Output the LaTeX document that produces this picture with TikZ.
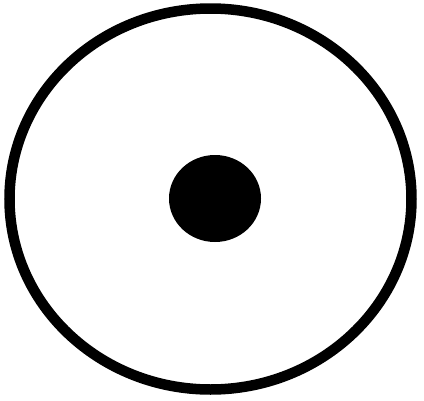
\documentclass[tikz,border=0pt]{standalone}
\usetikzlibrary{shapes.geometric}

\begin{document}
\begin{tikzpicture}[x=1pt, y=-1pt]
    \useasboundingbox (0,0) rectangle (424,400);
    % Outer ring
    \node[draw, ellipse, line width=10.5pt, inner sep=0pt,
          minimum width=402pt, minimum height=381pt] (ring) at (210.5,199) {};
    % Centre dot
    \node[fill=black, ellipse, inner sep=0pt,
          minimum width=92pt, minimum height=87pt] (dot) at (215,198.5) {};
\end{tikzpicture}
\end{document}
